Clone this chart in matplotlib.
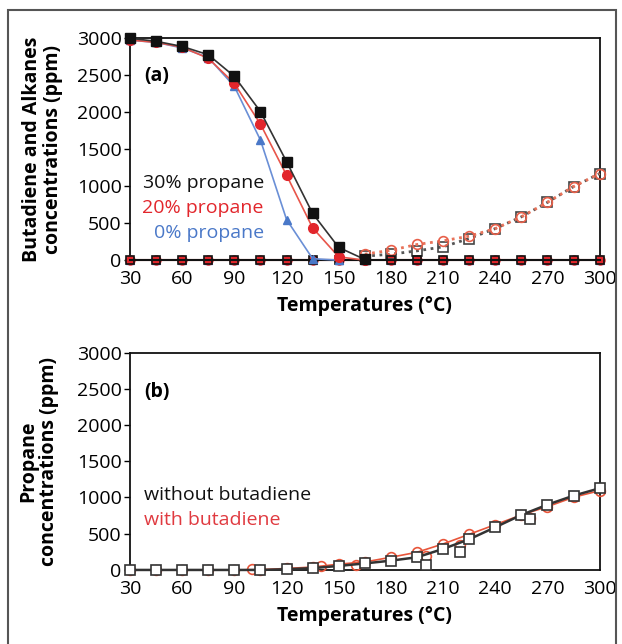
import numpy as np
import matplotlib.pyplot as plt
from matplotlib.patches import Rectangle

plt.rcParams['font.family'] = ['Open Sans', 'DejaVu Sans']

# ---- panel (a): butadiene / alkanes ----
t_fall = [30, 45, 60, 75, 90, 105, 120, 135, 150, 165]
p30 = [3000, 2960, 2890, 2778, 2485, 2010, 1333, 632, 172, 10]
p20 = [2977, 2945, 2880, 2730, 2390, 1840, 1150, 437, 45, 0]
t_p0 = [30, 45, 60, 75, 90, 105, 120, 135, 150]
p0 = [2975, 2945, 2870, 2740, 2350, 1624, 550, 20, 0]

t_all = [30, 45, 60, 75, 90, 105, 120, 135, 150, 165, 180, 195, 210,
         225, 240, 255, 270, 285, 300]
zeros = [0] * len(t_all)

t_rise = [165, 180, 195, 210, 225, 240, 255, 270, 285, 300]
rise_black = [54, 81, 126, 180, 293, 427, 586, 782, 995, 1170]
rise_red = [81, 135, 212, 262, 325, 427, 586, 782, 995, 1170]

# ---- panel (b): propane ----
t_b = [30, 45, 60, 75, 90, 105, 120, 135, 150, 165, 180, 195, 210, 225,
       240, 255, 270, 285, 300]
prop_without = [0, 0, 0, 0, 0, 0, 10, 25, 55, 90, 128, 175, 290, 423,
                589, 759, 901, 1025, 1127]
prop_with = [0, 0, 0, 0, 0, 5, 20, 40, 80, 110, 175, 244, 359, 492,
             625, 759, 873, 1003, 1094]
t_b_extra = [200, 220, 260]
without_extra = [69, 248, 703]
t_r_extra = [100, 140, 160, 200, 220, 260]
with_extra = [10, 50, 70, 193, 341, 721]

BLACK = '#111111'
RED = '#e2262c'
BLUE = '#4a78c8'

fig = plt.figure(figsize=(6.22, 6.44), dpi=100)
ax1 = fig.add_axes([0.209, 0.596, 0.755, 0.3445])
ax2 = fig.add_axes([0.209, 0.115, 0.755, 0.3375])

# outer frame
fig.patches.append(Rectangle((8 / 622, -0.05), 608 / 622, 1.05 - 10 / 644,
                             transform=fig.transFigure, fill=False,
                             edgecolor='#555555', lw=1.5))

# zero baseline series
ax1.plot(t_all, zeros, color=BLUE, marker='^', ms=5.5, lw=1.2, zorder=2)
ax1.plot(t_all, zeros, color=RED, marker='o', ms=6.5, lw=1.5, zorder=3)
ax1.plot(t_all, zeros, color=BLACK, marker='s', ms=5.5, mfc='none', mew=1.2,
         lw=1.5, zorder=4)

# rising dotted series
ax1.plot(t_rise, rise_black, color='#555555', ls=':', lw=2, marker='s',
         ms=6.5, mfc='none', mec='#444444', mew=1.2, zorder=3)
ax1.plot(t_rise, rise_red, color='#e8735a', ls=':', lw=2, marker='o', ms=7,
         mfc='none', mec='#e8604a', mew=1.2, zorder=3)

# falling series
ax1.plot(t_p0, p0, color='#6a8fd6', lw=1.2, marker='^', ms=5.5, mfc=BLUE,
         mec=BLUE, zorder=5)
ax1.plot(t_fall, p20, color='#e8554a', lw=1.2, marker='o', ms=7, mfc=RED,
         mec=RED, zorder=6)
ax1.plot(t_fall, p30, color='#333333', lw=1.2, marker='s', ms=6.5, mfc=BLACK,
         mec=BLACK, zorder=7)

ax1.text(0.03, 0.83, '(a)', transform=ax1.transAxes, fontsize=14,
         fontweight='bold', va='center')
ax1.text(0.285, 0.35, '30% propane', transform=ax1.transAxes, fontsize=14,
         color=BLACK, ha='right', va='center')
ax1.text(0.285, 0.237, '20% propane', transform=ax1.transAxes, fontsize=14,
         color=RED, ha='right', va='center')
ax1.text(0.285, 0.124, '0% propane', transform=ax1.transAxes, fontsize=14,
         color=BLUE, ha='right', va='center')
ax1.set_ylabel('Butadiene and Alkanes\nconcentrations (ppm)', fontsize=14,
               fontweight='bold', linespacing=1.05)

# panel (b)
ax2.plot(t_b, prop_with, color='#e8553a', lw=1.2, marker='o', ms=7,
         mfc='none', mec='#e8553a', mew=1.2, zorder=3)
ax2.plot(t_r_extra, with_extra, ls='none', marker='o', ms=7, mfc='none',
         mec='#e8553a', mew=1.2, zorder=3)
ax2.plot(t_b, prop_without, color='#333333', lw=1.8, marker='s', ms=6.5,
         mfc='white', mec='#333333', mew=1.2, zorder=4)
ax2.plot(t_b_extra, without_extra, ls='none', marker='s', ms=6.5,
         mfc='white', mec='#333333', mew=1.2, zorder=4)

ax2.text(0.03, 0.82, '(b)', transform=ax2.transAxes, fontsize=14,
         fontweight='bold', va='center')
ax2.text(0.03, 0.345, 'without butadiene', transform=ax2.transAxes,
         fontsize=14, color=BLACK, va='center')
ax2.text(0.03, 0.23, 'with butadiene', transform=ax2.transAxes,
         fontsize=14, color='#e03a40', va='center')
ax2.set_ylabel('Propane\nconcentrations (ppm)', fontsize=14,
               fontweight='bold', linespacing=1.05)

for ax in (ax1, ax2):
    ax.set_xlim(30, 300)
    ax.set_ylim(0, 3000)
    ax.set_xticks(range(30, 301, 30))
    ax.set_yticks(range(0, 3001, 500))
    ax.tick_params(axis='x', length=0, pad=7, labelsize=14)
    ax.tick_params(axis='y', length=4, width=1, pad=2, labelsize=14)
    ax.set_xlabel('Temperatures (°C)', fontsize=14, fontweight='bold',
                  labelpad=6)
    for s in ax.spines.values():
        s.set_linewidth(1.3)
        s.set_color('#111111')
    for ln in ax.lines:
        ln.set_clip_on(False)

ax1.yaxis.set_label_coords(-0.143, 0.5)
ax2.yaxis.set_label_coords(-0.152, 0.5)

fig.savefig('out.png', dpi=100)
